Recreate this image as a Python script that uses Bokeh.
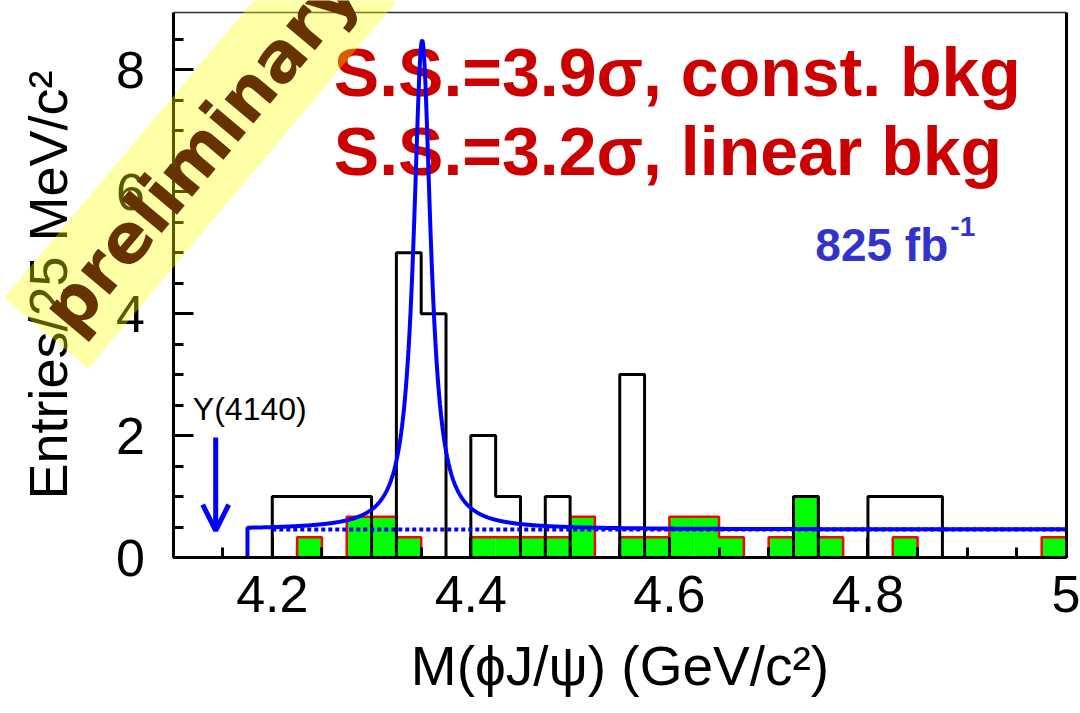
import numpy as np
from bokeh.plotting import figure
from bokeh.models import FixedTicker, Arrow, OpenHead, Label, LinearAxis, Range1d
from bokeh.core.properties import value
from bokeh.embed import file_html
from bokeh.resources import INLINE

# Binning: 25 MeV/c^2 bins over 4.1 - 5.0 GeV/c^2
bin_lo = 4.1
bin_width = 0.025

# Entries in the signal region, one per bin starting at 4.1
data_counts = [0, 0, 0, 0, 1, 1, 1, 1, 0, 5, 4, 0,
               2, 1, 0, 1, 0, 0, 3, 0, 0, 0, 0, 0,
               0, 1, 0, 0, 1, 1, 1, 0, 0, 0, 0, 0]

# Normalised phi sideband, one per bin starting at 4.2
sb_lo = 4.2
sideband_counts = [0, 1/3, 0, 2/3, 2/3, 1/3, 0, 0,
                   1/3, 1/3, 1/3, 1/3, 2/3, 0, 1/3, 1/3,
                   2/3, 2/3, 1/3, 0, 1/3, 1, 1/3, 0,
                   0, 1/3, 0, 0, 0, 0, 0, 1/3]

# Fit: Breit-Wigner on a constant background
fit_start = 4.175
fit_mass = 4.351
fit_width = 0.021
fit_amp = 8.02
fit_bkg = 0.46
bkg_start = 4.2

y4140_mass = 4.143

# Axis limits of the histogram box
x_min, x_max = 4.1, 5.0
y_min, y_max = 0.0, 8.94

x_ticks = [4.2, 4.4, 4.6, 4.8, 5.0]
x_tick_labels = ["4.2", "4.4", "4.6", "4.8", "5"]
x_minor = [round(4.1 + 0.05 * i, 3) for i in range(19)]
y_ticks = [0, 2, 4, 6, 8]
y_tick_labels = ["0", "2", "4", "6", "8"]
y_minor = [0.5 * i for i in range(18)]

FONT = "Liberation Sans"
W, H = 1080, 713

# The frame fills the whole canvas; the axes sit at fixed positions inside it
# so that the stamp can run across the tick labels.
px_x = (1066 - 172.5) / (x_max - x_min)
px_y = (557 - 12) / (y_max - y_min)
x_range = Range1d(x_min - 172.5 / px_x, x_max + (W - 1066) / px_x)
y_range = Range1d(y_min - (H - 557) / px_y, y_max + 12 / px_y)

p = figure(width=W, height=H, x_range=x_range, y_range=y_range,
           x_axis_type=None, y_axis_type=None,
           output_backend="svg", toolbar_location=None, min_border=0)
p.grid.visible = False
p.background_fill_color = "white"
p.border_fill_color = "white"
p.outline_line_color = None

# Sideband (green fill with red outline)
sb = np.array(sideband_counts)
sb_edges = sb_lo + bin_width * np.arange(len(sb) + 1)
p.quad(left=sb_edges[:-1], right=sb_edges[1:], bottom=0, top=sb,
       fill_color="#00FF00", line_color=None)
p.step(x=sb_edges, y=np.append(sb, sb[-1]), mode="after",
       line_color="#FF0000", line_width=2.5)

# Signal-region data
dc = np.array(data_counts, dtype=float)
d_edges = bin_lo + bin_width * np.arange(len(dc) + 1)
p.step(x=d_edges, y=np.append(dc, dc[-1]), mode="after",
       line_color="black", line_width=3)

# Significance texts
p.text(x=[4.262], y=[7.97], text=["S.S.=3.9σ, const. bkg"],
       text_font=value(FONT), text_font_style="bold", text_font_size="68px",
       text_color="#CC0000", text_baseline="alphabetic")
p.text(x=[4.262], y=[6.66], text=["S.S.=3.2σ, linear bkg"],
       text_font=value(FONT), text_font_style="bold", text_font_size="68px",
       text_color="#CC0000", text_baseline="alphabetic")

# Luminosity
p.text(x=[4.747], y=[5.12], text=["825 fb"],
       text_font=value(FONT), text_font_style="bold", text_font_size="46px",
       text_color="#3333CC", text_baseline="alphabetic")
p.text(x=[4.883], y=[5.43], text=["-1"],
       text_font=value(FONT), text_font_style="bold", text_font_size="28px",
       text_color="#3333CC", text_baseline="alphabetic")

# Y(4140) marker
p.text(x=[4.12], y=[2.43], text=["Y(4140)"],
       text_font=value(FONT), text_font_size="32px",
       text_color="black", text_baseline="alphabetic")
p.add_layout(Arrow(end=OpenHead(size=26, line_color="#0000FF", line_width=5),
                   x_start=y4140_mass, y_start=1.97,
                   x_end=y4140_mass, y_end=0.44,
                   line_color="#0000FF", line_width=5))

# Fit curves
xf = np.linspace(fit_start, x_max, 3000)
yf = fit_bkg + fit_amp * (fit_width / 2) ** 2 / ((xf - fit_mass) ** 2 + (fit_width / 2) ** 2)
p.line([bkg_start, x_max], [fit_bkg, fit_bkg], line_color="#0000FF",
       line_width=4, line_dash="4 3")
p.line(np.concatenate([[fit_start], xf]), np.concatenate([[0], yf]),
       line_color="#0000FF", line_width=4)


def style(ax, label_size):
    ax.axis_line_width = 3
    ax.axis_line_color = "black"
    ax.major_tick_line_width = 3
    ax.minor_tick_line_width = 3
    ax.major_tick_in = 20
    ax.major_tick_out = 0
    ax.minor_tick_in = 10
    ax.minor_tick_out = 0
    ax.major_label_text_font = FONT
    ax.major_label_text_font_size = "52px"
    ax.major_label_text_color = "black"
    ax.axis_label_text_font = FONT
    ax.axis_label_text_font_style = "normal"
    ax.axis_label_text_font_size = label_size
    ax.axis_label_text_color = "black"


xaxis = LinearAxis(fixed_location=y_min, bounds=(x_min, x_max),
                   ticker=FixedTicker(ticks=x_ticks, minor_ticks=x_minor),
                   major_label_overrides=dict(zip(x_ticks, x_tick_labels)),
                   axis_label="M(ϕJ/ψ) (GeV/c²)")
style(xaxis, "55px")
xaxis.major_label_standoff = 18
xaxis.axis_label_standoff = 20
p.add_layout(xaxis, "below")

yaxis = LinearAxis(fixed_location=x_min, bounds=(y_min, y_max),
                   ticker=FixedTicker(ticks=y_ticks, minor_ticks=y_minor),
                   major_label_overrides=dict(zip(y_ticks, y_tick_labels)),
                   axis_label="Entries/25 MeV/c²")
style(yaxis, "54px")
yaxis.major_label_standoff = 28
yaxis.axis_label_standoff = 36
p.add_layout(yaxis, "left")

# Closing edges of the box
top = LinearAxis(fixed_location=y_max, bounds=(x_min, x_max),
                 ticker=FixedTicker(ticks=[], minor_ticks=[]),
                 axis_line_width=1.5, axis_line_color="#333333")
p.add_layout(top, "above")
right = LinearAxis(fixed_location=x_max, bounds=(y_min, y_max),
                   ticker=FixedTicker(ticks=[], minor_ticks=[]),
                   axis_line_width=3, axis_line_color="black")
p.add_layout(right, "right")

# Preliminary stamp
p.add_layout(Label(x=4.127, y=6.68, text="preliminary", angle=50, angle_units="deg",
                   text_align="center", text_baseline="middle",
                   text_font="DejaVu Sans", text_font_style="bold",
                   text_font_size="69px", text_color="#663300",
                   background_fill_color="#FFFF00", background_fill_alpha=0.35,
                   padding=15))

open("out.html", "w").write(file_html(p, INLINE))
